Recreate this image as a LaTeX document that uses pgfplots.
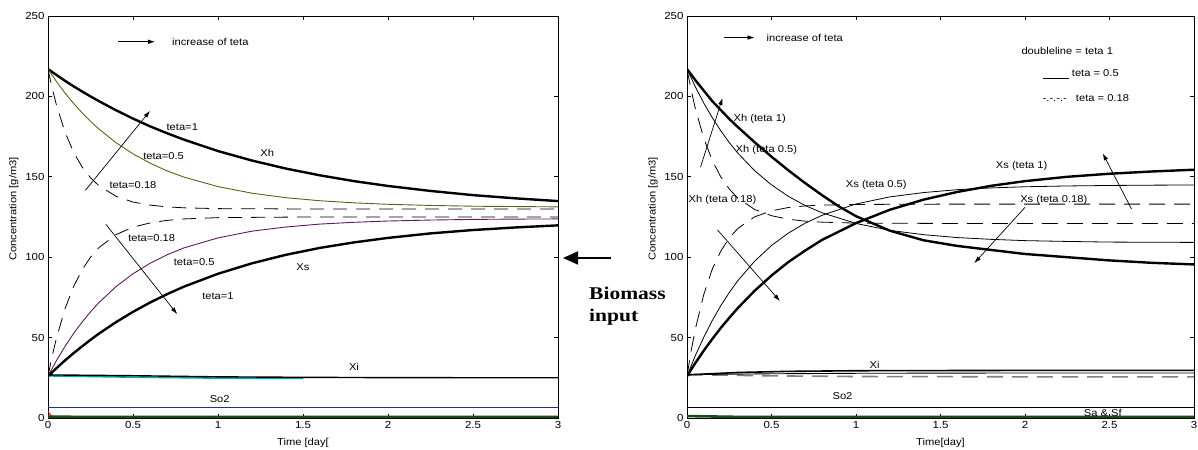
\documentclass[border=0pt]{standalone}
\usepackage{fontspec}
\setmainfont{Liberation Sans}[FakeStretch=1.12]
\newfontfamily\bigserif{Liberation Serif}[FakeStretch=1.2]
\usepackage{pgfplots}
\pgfplotsset{compat=1.18}
\usetikzlibrary{arrows.meta}
\definecolor{olive2}{RGB}{95,95,25}
\definecolor{purple2}{RGB}{95,25,95}
\definecolor{cyan2}{RGB}{0,170,170}
\definecolor{navy2}{RGB}{40,40,150}
\definecolor{green2}{RGB}{25,75,25}
\pgfplotsset{base/.style={
  scale only axis, height=402bp, anchor=south west,
  xmin=0, xmax=3, ymin=0, ymax=250,
  xtick={0,0.5,1,1.5,2,2.5,3}, xticklabels={0,0.5,1,1.5,2,2.5,3},
  ytick={0,50,100,150,200,250},
  tick align=inside, major tick length=4bp,
  axis line style={line width=0.9bp}, tick style={black, line width=0.6bp},
  ticklabel style={font=\fontsize{10.3}{11}\selectfont},
  /pgf/number format/assume math mode=true,
  label style={font=\fontsize{10}{11}\selectfont},
  xlabel style={at={(axis description cs:0.5,0)}, anchor=center, yshift=-25bp},
  ylabel style={at={(axis description cs:-0.067,0.52)}, anchor=center},
  every node/.append style={font=\fontsize{10}{11}\selectfont},
  clip=true,
}}
\tikzset{arr/.style={line width=0.7bp, -{Latex[length=7bp,width=4.5bp]}}}
\begin{document}
\begin{tikzpicture}
\useasboundingbox (0,0) rectangle (1198bp,450bp);
% ---------------- left panel
\begin{axis}[base, at={(48bp,32bp)}, width=510bp,
  xlabel={Time [day[}, ylabel={Concentration [g/m3]}]
% bottom lines
\addplot[red, line width=1bp] coordinates {(0,4)(0.02,1.2)(0.05,0.6)(0.3,0.5)};
\addplot[green2, line width=2.6bp] coordinates {(0,0.8)(0.5,0.6)(1,0.6)(3,0.6)};
\addplot[navy2, line width=0.9bp] coordinates {(0,6.5)(3,6.5)};
% Xi
\addplot[cyan2, line width=1.6bp] coordinates {(0,26.2)(0.5,25.4)(1,24.8)(1.5,24.6)};
\addplot[black, line width=1.4bp] coordinates {(0,26.8)(0.5,26.3)(1,25.6)(1.5,25.3)(2,25.1)(3,25)};
% Xh teta=1
\addplot[black, line width=2.4bp] coordinates {(0,217)(0.05,213.3)(0.1,209.7)(0.15,206.3)(0.2,203.1)(0.25,200.0)(0.3,197.0)(0.4,191.4)(0.5,186.2)(0.6,181.4)(0.7,177.1)(0.8,173.1)(1.0,166.0)(1.2,160.1)(1.4,155.1)(1.6,150.9)(1.8,147.3)(2.0,144.3)(2.25,141.2)(2.5,138.6)(2.75,136.6)(3.0,134.9)};
% Xh teta=0.5
\addplot[olive2, line width=0.9bp] coordinates {(0,217)(0.05,209.2)(0.1,202.1)(0.15,195.7)(0.2,189.8)(0.25,184.5)(0.3,179.7)(0.4,171.2)(0.5,164.3)(0.6,158.5)(0.7,153.7)(0.8,149.8)(1.0,143.9)(1.2,139.8)(1.4,137.0)(1.6,135.1)(1.8,133.8)(2.0,132.9)(2.25,132.2)(2.5,131.7)(2.75,131.5)(3.0,131.3)};
% Xh teta=0.18
\addplot[black, line width=0.8bp, dash pattern=on 14bp off 9bp] coordinates {(0,217)(0.025,204.9)(0.05,194.5)(0.1,177.8)(0.15,165.4)(0.2,156.2)(0.25,149.4)(0.3,144.4)(0.4,137.9)(0.5,134.3)(0.6,132.4)(0.7,131.3)(0.8,130.7)(1.0,130.2)(1.5,130.0)(2.0,130)(3.0,130)};
% Xs teta=0.18
\addplot[black, line width=0.8bp, dash pattern=on 14bp off 9bp] coordinates {(0,26)(0.025,38.7)(0.05,49.8)(0.1,67.9)(0.15,81.6)(0.2,92.0)(0.25,100.0)(0.3,106.0)(0.4,114.0)(0.5,118.7)(0.6,121.3)(0.7,122.9)(0.8,123.8)(1.0,124.6)(1.5,125)(2,125)(3,125)};
% Xs teta=0.5
\addplot[purple2, line width=0.9bp] coordinates {(0,26)(0.05,35.8)(0.1,44.5)(0.15,52.5)(0.2,59.6)(0.25,66.0)(0.3,71.8)(0.4,81.7)(0.5,89.7)(0.6,96.2)(0.7,101.5)(0.8,105.8)(1.0,112.0)(1.2,116.2)(1.4,118.8)(1.6,120.6)(1.8,121.7)(2.0,122.5)(2.25,123.1)(2.5,123.5)(2.75,123.7)(3.0,123.8)};
% Xs teta=1
\addplot[black, line width=2.4bp] coordinates {(0,26)(0.05,31.0)(0.1,35.8)(0.15,40.3)(0.2,44.5)(0.25,48.6)(0.3,52.5)(0.4,59.6)(0.5,66.0)(0.6,71.8)(0.7,77.0)(0.8,81.7)(1.0,89.7)(1.2,96.2)(1.4,101.5)(1.6,105.8)(1.8,109.2)(2.0,112.0)(2.25,114.8)(2.5,116.9)(2.75,118.5)(3.0,119.8)};
% annotations
\draw[arr] (axis cs:0.41,234) -- (axis cs:0.63,234);
\node[anchor=west] at (axis cs:0.71,234) {increase of teta};
\draw[arr] (axis cs:0.22,141.6) -- (axis cs:0.6,191);
\draw[arr] (axis cs:0.34,120.5) -- (axis cs:0.76,64.6);
\node at (axis cs:0.79,181) {teta=1};
\node at (axis cs:0.68,163) {teta=0.5};
\node at (axis cs:1.29,165) {Xh};
\node at (axis cs:0.5,145) {teta=0.18};
\node at (axis cs:0.61,112) {teta=0.18};
\node at (axis cs:0.86,97) {teta=0.5};
\node at (axis cs:1.5,94) {Xs};
\node at (axis cs:1.0,76) {teta=1};
\node at (axis cs:1.8,31.5) {Xi};
\node at (axis cs:1.01,12) {So2};
\end{axis}
% ---------------- right panel
\begin{axis}[base, at={(687bp,32bp)}, width=507bp,
  xlabel={Time[day]}, ylabel={Concentration [g/m3]}]
\addplot[green2, line width=2.6bp] coordinates {(0,1.2)(0.3,0.7)(1,0.6)(3,0.6)};
\addplot[black, line width=0.9bp] coordinates {(0,6.5)(3,6.5)};
% Xi family
\addplot[gray, line width=1.6bp, dash pattern=on 16bp off 9bp] coordinates {(0,27)(0.5,26.2)(1,25.8)(2,25.6)(3,25.6)};
\addplot[black, line width=0.9bp] coordinates {(0,27)(0.5,27.5)(1,27.8)(2,28)(3,28)};
\addplot[black, line width=1.6bp] coordinates {(0,26.8)(0.3,28.3)(0.6,29)(1,29.4)(2,29.6)(3,29.6)};
% Xh teta 1
\addplot[black, line width=2.4bp] coordinates {(0,217)(0.05,210)(0.1,203.5)(0.15,197)(0.2,191.5)(0.25,186)(0.3,181)(0.4,171.5)(0.5,162.5)(0.6,154)(0.7,146)(0.8,138.5)(0.9,131.5)(1.0,125.5)(1.2,116.5)(1.4,110.5)(1.6,107)(1.8,104.5)(2.0,102)(2.25,100)(2.5,98)(2.75,96.5)(3.0,95.5)};
% Xh teta 0.5
\addplot[black, line width=0.8bp] coordinates {(0,217)(0.05,205.8)(0.1,195.7)(0.15,186.7)(0.2,178.6)(0.25,171.3)(0.3,164.8)(0.4,153.8)(0.5,145.0)(0.6,137.8)(0.7,132.1)(0.8,127.6)(1.0,121.0)(1.2,116.7)(1.4,114.0)(1.6,112.2)(1.8,111.1)(2.0,110.3)(2.25,109.8)(2.5,109.4)(2.75,109.3)(3.0,109.2)};
% Xh teta 0.18
\addplot[black, line width=0.8bp, dash pattern=on 16bp off 9bp] coordinates {(0,217)(0.025,203.7)(0.05,192.1)(0.1,173.7)(0.15,160.1)(0.2,149.9)(0.25,142.4)(0.3,136.8)(0.4,129.7)(0.5,125.8)(0.6,123.6)(0.7,122.4)(0.8,121.8)(1.0,121.2)(1.5,121)(3,121)};
% Xs teta 1
\addplot[black, line width=2.4bp] coordinates {(0,26)(0.05,34.3)(0.1,42.0)(0.15,49.2)(0.2,56.0)(0.25,62.3)(0.3,68.3)(0.4,79.1)(0.5,88.6)(0.6,97.0)(0.7,104.2)(0.8,110.8)(1.0,121.2)(1.2,129.5)(1.4,135.8)(1.6,140.6)(1.8,144.4)(2.0,147.3)(2.25,150.0)(2.5,151.9)(2.75,153.3)(3.0,154.4)};
% Xs teta 0.5
\addplot[black, line width=0.8bp] coordinates {(0,26)(0.05,39.0)(0.1,50.4)(0.15,60.7)(0.2,69.9)(0.25,78.0)(0.3,85.3)(0.4,97.5)(0.5,107.3)(0.6,115.0)(0.7,121.2)(0.8,126.1)(1.0,133.1)(1.2,137.5)(1.4,140.2)(1.6,142.0)(1.8,143.1)(2.0,143.8)(2.25,144.3)(2.5,144.6)(2.75,144.8)(3.0,144.9)};
% Xs teta 0.18
\addplot[black, line width=0.8bp, dash pattern=on 16bp off 9bp] coordinates {(0,26)(0.025,42.1)(0.05,55.6)(0.1,77.1)(0.15,92.7)(0.2,103.8)(0.25,111.9)(0.3,117.8)(0.4,125.1)(0.5,128.8)(0.6,130.9)(0.7,131.9)(0.8,132.4)(1.0,132.8)(1.5,133)(3,133)};
% annotations
\draw[arr] (axis cs:0.22,236.6) -- (axis cs:0.40,236.6);
\node[anchor=west] at (axis cs:0.45,236.6) {increase of teta};
\node at (axis cs:2.25,228) {doubleline = teta 1};
\node at (axis cs:2.33,214) {\underline{\hspace{26bp}} teta = 0.5};
\node at (axis cs:2.36,199) {-.-.-.-\hspace{6bp} teta = 0.18};
\draw[arr] (axis cs:0.08,156) -- (axis cs:0.21,199);
\draw[arr] (axis cs:0.18,117) -- (axis cs:0.55,72.7);
\draw[arr] (axis cs:2.63,130) -- (axis cs:2.46,164.6);
\draw[arr] (axis cs:2.0,131) -- (axis cs:1.70,96.3);
\node at (axis cs:0.43,186) {Xh (teta 1)};
\node at (axis cs:0.47,166.5) {Xh (teta 0.5)};
\node at (axis cs:1.12,144.7) {Xs (teta 0.5)};
\node at (axis cs:0.21,135.4) {Xh (teta 0.18)};
\node at (axis cs:1.98,157) {Xs (teta 1)};
\node at (axis cs:2.17,135.4) {Xs (teta 0.18)};
\node at (axis cs:1.11,33) {Xi};
\node at (axis cs:0.92,13.7) {So2};
\node at (axis cs:2.46,3) {Sa \& Sf};
\end{axis}
% ---------------- biomass input arrow
\draw[line width=1.8bp, -{Triangle[length=15bp,width=13bp]}] (611bp,192bp) -- (563bp,192bp);
\begin{scope}
\clip (575bp,125bp) rectangle (680bp,175bp);
\node[anchor=base west, inner sep=0pt, font=\bigserif\bfseries\fontsize{18}{22}\selectfont] at (589bp,150bp) {Biomass};
\node[anchor=base west, inner sep=0pt, font=\bigserif\bfseries\fontsize{18}{22}\selectfont] at (589bp,128bp) {input};
\end{scope}
\end{tikzpicture}
\end{document}
